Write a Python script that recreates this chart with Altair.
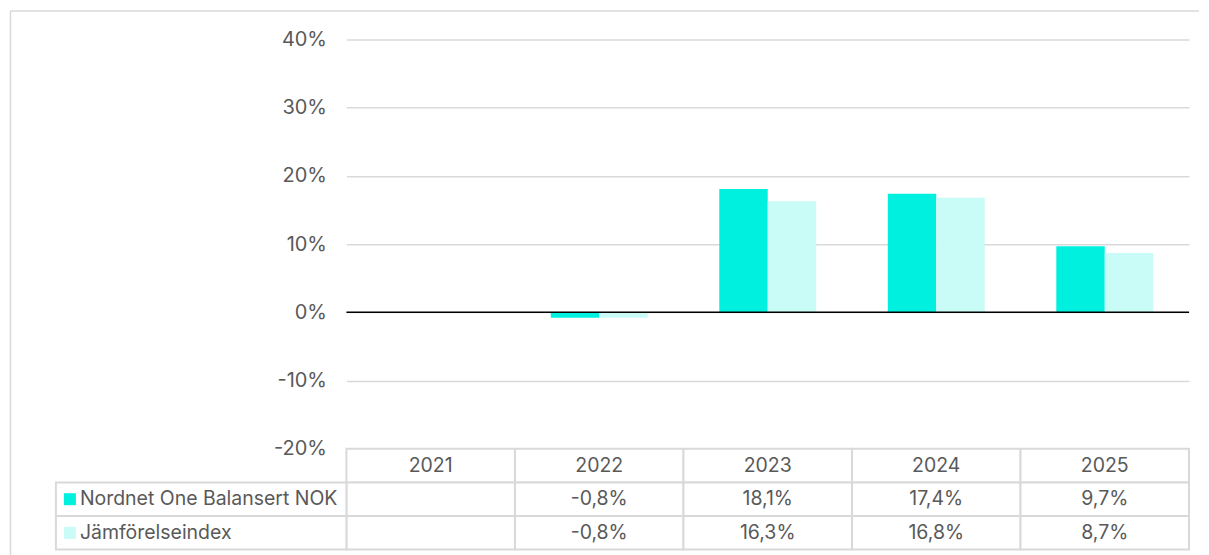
import altair as alt
import pandas as pd

years = ["2021", "2022", "2023", "2024", "2025"]
series = ["Nordnet One Balansert NOK", "Jämförelseindex"]
fund = [None, -0.8, 18.1, 17.4, 9.7]
bench = [None, -0.8, 16.3, 16.8, 8.7]
colors = ["#00F0E0", "#C9FBF7"]
y_ticks = [-0.2, -0.1, 0.0, 0.1, 0.2, 0.3, 0.4]

FONT = "Inter"
TXT = "#595959"
GRID = "#D9D9D9"
FS = 20
FS_T = 19.5

rows = []
for s, vals in zip(series, [fund, bench]):
    for yv, v in zip(years, vals):
        rows.append({
            "year": yv, "series": s, "row": s,
            "value": None if v is None else v / 100.0,
            "label": "" if v is None else f"{v:.1f}".replace(".", ",") + "%",
        })
df = pd.DataFrame(rows)

tbl_rows = ["header"] + series
cells = pd.DataFrame([{"year": yv, "row": r} for yv in years for r in tbl_rows])
hdr = pd.DataFrame([{"year": yv, "row": "header", "label": yv} for yv in years])
tbl_text = pd.concat([hdr, df[["year", "row", "label"]]], ignore_index=True)
leg = pd.DataFrame([{"row": s, "series": s} for s in series])

W, H = 844, 410

color = alt.Color("series:N", sort=series,
                  scale=alt.Scale(domain=series, range=colors), legend=None)

one = alt.Data(values=[{}])
frame_top = alt.Chart(one).mark_rule(color=GRID, strokeWidth=1.5).encode(
    x=alt.value(-336.5), x2=alt.value(854), y=alt.value(-28.5))
frame_left = alt.Chart(one).mark_rule(color=GRID, strokeWidth=1.5).encode(
    x=alt.value(-336.5), y=alt.value(-28.5), y2=alt.value(600))

bars = alt.Chart(df).mark_bar().encode(
    x=alt.X("year:N", sort=years, axis=None,
            scale=alt.Scale(paddingInner=0.425, paddingOuter=0.2125)),
    xOffset=alt.XOffset("series:N", sort=series),
    y=alt.Y("value:Q", scale=alt.Scale(domain=[-0.2, 0.4], nice=False),
            axis=alt.Axis(values=y_ticks, labelExpr="round(datum.value*100) + '%'",
                          ticks=False, domain=False, labelPadding=20,
                          labelFontSize=FS, labelColor=TXT, labelFont=FONT,
                          gridColor=GRID, gridWidth=1.5, title=None)),
    color=color,
)

zero = alt.Chart(one).mark_rule(color="#000000", strokeWidth=1.5).encode(
    y=alt.datum(0)
)

top = alt.layer(frame_top, frame_left, bars, zero).properties(width=W, height=H)

xt = alt.X("year:N", sort=years, axis=None,
           scale=alt.Scale(domain=years, paddingInner=0, paddingOuter=0))
yt = alt.Y("row:N", sort=tbl_rows, axis=None,
           scale=alt.Scale(domain=tbl_rows, paddingInner=0, paddingOuter=0))

cell = alt.Chart(cells).mark_rect(fill="white", stroke=GRID, strokeWidth=2).encode(x=xt, y=yt)
ttext = alt.Chart(tbl_text).mark_text(fontSize=FS_T, color=TXT, font=FONT).encode(
    x=xt, y=yt, text="label:N")
legcell = alt.Chart(leg).mark_rect(fill="white", stroke=GRID, strokeWidth=2).encode(
    x=alt.value(-291), x2=alt.value(0), y=yt)
legsq = alt.Chart(leg).mark_square(size=144, opacity=1).encode(
    x=alt.value(-277), y=yt, color=color)
legtxt = alt.Chart(leg).mark_text(align="left", fontSize=FS_T, color=TXT, font=FONT).encode(
    x=alt.value(-267), y=yt, text="series:N")

bottom = alt.layer(cell, ttext, legcell, legsq, legtxt).properties(width=W, height=101)

chart = alt.vconcat(top, bottom, spacing=0, bounds="flush").resolve_scale(
    x="independent", y="independent"
).properties(padding=1).configure(font=FONT).configure_view(stroke=None)

chart.save("out.html", embed_options={"renderer": "svg", "actions": False})
